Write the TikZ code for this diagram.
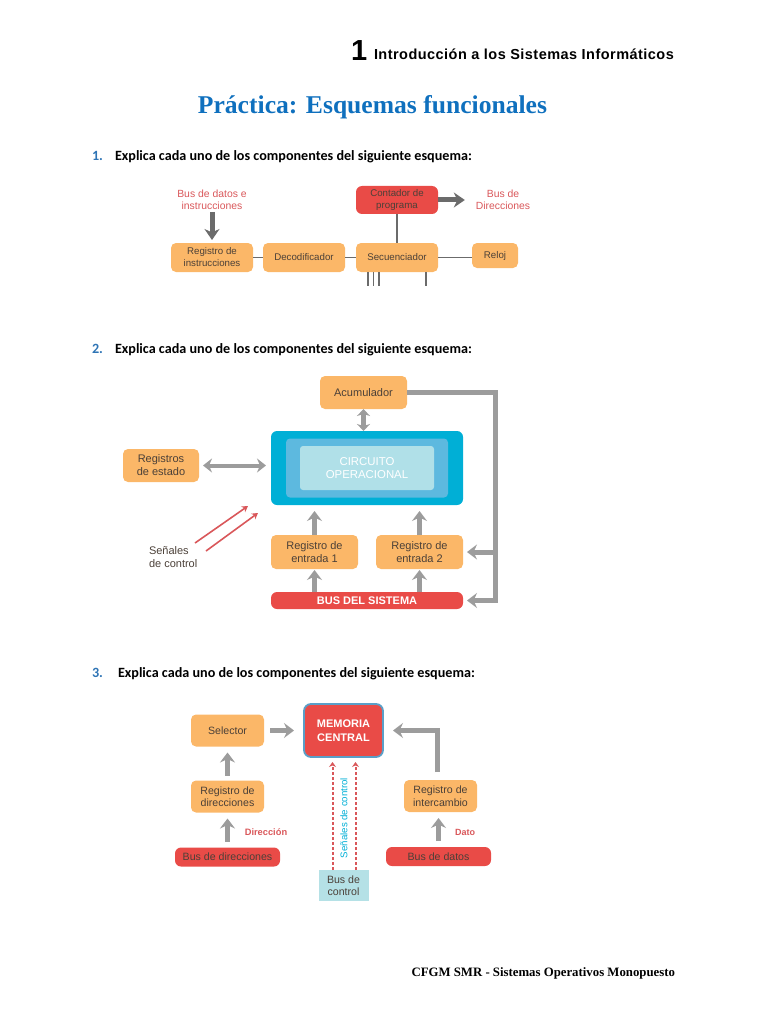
\documentclass[tikz,border=0pt]{standalone}
\usepackage{fontspec}
\usepackage{tikz}
\usetikzlibrary{positioning,arrows.meta}
\setmainfont{Liberation Sans}
\newfontfamily\serifbold[BoldFont={Liberation Serif Bold}]{Liberation Serif}
\newfontfamily\calibrifont{Carlito}
\newfontfamily\spacedfont[LetterSpace=3.2]{Liberation Sans}
\definecolor{boxorange}{HTML}{FBB768}
\definecolor{boxred}{HTML}{E94B47}
\definecolor{cyanouter}{HTML}{00AFD6}
\definecolor{cyanmid}{HTML}{5DB9DF}
\definecolor{cyaninner}{HTML}{B0E0E8}
\definecolor{ctrlcyan}{HTML}{B5E1E6}
\definecolor{labelred}{HTML}{D9575A}
\definecolor{arrowgrey}{HTML}{9C9C9C}
\definecolor{arrowdark}{HTML}{6B6B6B}
\definecolor{boxtext}{HTML}{4B4038}
\definecolor{titleblue}{HTML}{0F70BE}
\definecolor{numblue}{HTML}{2E74B5}
\definecolor{memborder}{HTML}{5A9FC8}

\begin{document}
\begin{tikzpicture}[
      x=1pt,y=-1pt,
      node distance=10pt,
      every node/.style={inner sep=0pt,outer sep=0pt,align=center,text=boxtext,font=\fontsize{9.7}{12}\selectfont},
      bigtext/.style={font=\fontsize{11}{13}\selectfont},
      midtext/.style={font=\fontsize{10.6}{12.5}\selectfont},
      box/.style={fill=boxorange,rounded corners=5pt,minimum width=#1,minimum height=33pt},
      box/.default=82pt,
      redbox/.style={fill=boxred,rounded corners=6pt,minimum width=#1,minimum height=19pt},
      redlabel/.style={text=labelred,font=\fontsize{10.4}{12}\selectfont},
      qtext/.style={anchor=base west,text=black,font=\fontsize{14.15}{16}\calibrifont\bfseries},
      qnum/.style={anchor=base west,text=numblue,font=\fontsize{14.15}{16}\calibrifont\bfseries},
      thinline/.style={draw=arrowdark,line width=1.6pt},
      fatdark/.style={draw=arrowdark,line width=5pt,-{Stealth[length=11pt,width=15pt,inset=3.5pt]}},
      fat/.style={draw=arrowgrey,line width=5pt,-{Stealth[length=10pt,width=15pt,inset=3.5pt]}},
      fatboth/.style={draw=arrowgrey,line width=4pt,{Stealth[length=9pt,width=14pt,inset=3pt]}-{Stealth[length=9pt,width=14pt,inset=3pt]}},
      ctrl/.style={draw=labelred,line width=2pt,dash pattern=on 3pt off 2pt,-{Stealth[length=5pt,width=7pt]}},
      sig/.style={draw=labelred,line width=1.6pt,-{Stealth[length=6pt,width=7pt,inset=2pt]}}
    ]
    \useasboundingbox (0,0) rectangle (768,1024);

    % header
    \node[anchor=base west,text=black,font=\fontsize{29}{30}\selectfont\bfseries] (chapnum) at (351,61) {1};
    \node[anchor=base west,text=black,font=\fontsize{14.5}{16}\spacedfont\bfseries] (chaptitle) at (374,60) {Introducción a los Sistemas Informáticos};
    \node[text=titleblue,font=\fontsize{25.6}{28}\serifbold\bfseries] (title) at (372.5,107) {Práctica: Esquemas funcionales};

    % first scheme
    \node[qnum] (num1) at (92,161) {1.};
    \node[qtext] (q1) at (115,161) {Explica cada uno de los componentes del siguiente esquema:};
    \node[box,minimum height=29pt] (regins) at (212,257.5) {Registro de\\instrucciones};
    \node[box,minimum height=29pt,right=of regins] (decod) {Decodificador};
    \node[box,minimum height=29pt,right=11pt of decod] (secuen) {Secuenciador};
    \node[box=46pt,minimum height=25pt,right=34pt of secuen,yshift=2pt] (reloj) {Reloj};
    \node[fill=boxred,rounded corners=6pt,minimum width=82pt,minimum height=28pt,above=29pt of secuen] (contador) {Contador de\\programa};
    \node[redlabel] (busdatos) at (212,200) {Bus de datos e\\instrucciones};
    \node[redlabel] (busdir) at (503,200) {Bus de\\Direcciones};
    \coordinate (stuba) at (368,286);
    \coordinate (stubb) at (373.5,286);
    \coordinate (stubc) at (379,286);
    \coordinate (stubd) at (426,286);

    \draw[thinline] (regins) -- (decod);
    \draw[thinline] (decod) -- (secuen);
    \draw[thinline] (secuen) -- (reloj.west |- secuen);
    \draw[thinline] (contador) -- (secuen);
    \draw[thinline] (stuba |- secuen.south) -- (stuba);
    \draw[thinline] (stubb |- secuen.south) -- (stubb);
    \draw[thinline] (stubc |- secuen.south) -- (stubc);
    \draw[thinline] (stubd |- secuen.south) -- (stubd);
    \draw[fatdark,shorten <=2pt,shorten >=3pt] (busdatos) -- (regins);
    \draw[fatdark,shorten >=11pt] (contador.east |- busdir) -- (busdir.west);

    % second scheme
    \node[qnum] (num2) at (92,353) {2.};
    \node[qtext] (q2) at (115,353) {Explica cada uno de los componentes del siguiente esquema:};
    \node[fill=cyanouter,rounded corners=6pt,minimum width=192pt,minimum height=74pt] (opouter) at (367,468) {};
    \node[fill=cyanmid,rounded corners=4pt,minimum width=162pt,minimum height=59pt] (opmid) at (opouter.center) {};
    \node[fill=cyaninner,rounded corners=3pt,minimum width=134pt,minimum height=44pt,text=white,font=\fontsize{11.4}{13}\selectfont] (opinner) at (opouter.center) {CIRCUITO\\OPERACIONAL};
    \node[box=87pt,bigtext,above=22pt of opouter,xshift=-3.5pt] (acum) {Acumulador};
    \node[box=76pt,bigtext,left=72pt of opouter,yshift=2.5pt] (regest) {Registros\\de estado};
    \node[box=87pt,bigtext,minimum height=34pt,below right=30pt and 0pt of opouter.south west] (reg1) {Registro de\\entrada 1};
    \node[box=87pt,bigtext,minimum height=34pt,below left=30pt and 0pt of opouter.south east] (reg2) {Registro de\\entrada 2};
    \node[redbox=192pt,minimum height=17pt,below=87pt of opouter,text=white,font=\fontsize{11}{13}\selectfont\bfseries] (bus) {BUS DEL SISTEMA};
    \node[anchor=west,align=left,bigtext] (senal) at (149,557) {Señales\\de control};
    \coordinate (rail) at (495,500);
    \coordinate (siga) at (195,543);
    \coordinate (sigb) at (248,506);
    \coordinate (sigc) at (206,551);
    \coordinate (sigd) at (258,513);

    \draw[fatboth,{Stealth[length=7pt,width=13pt,inset=2pt]}-{Stealth[length=7pt,width=13pt,inset=2pt]},line width=4.5pt] (acum) -- (acum |- opouter.north);
    \draw[fatboth,shorten <=4pt,shorten >=5pt] (regest) -- (regest -| opouter.west);
    \draw[fat,shorten >=6pt] (reg1) -- (reg1 |- opouter.south);
    \draw[fat,shorten >=6pt] (reg2) -- (reg2 |- opouter.south);
    \draw[fat] (reg1 |- bus.north) -- ([yshift=-1pt]reg1.south);
    \draw[fat] (reg2 |- bus.north) -- ([yshift=-1pt]reg2.south);
    \draw[fat,line join=miter,shorten >=4pt] (acum.east) -- (acum.east -| rail) -- (rail |- bus) -- (bus.east);
    \draw[fat,shorten >=4pt] (rail |- reg2) -- (reg2.east);
    \draw[sig] (siga) -- (sigb);
    \draw[sig] (sigc) -- (sigd);

    % third scheme
    \node[qnum] (num3) at (92,677) {3.};
    \node[qtext] (q3) at (118,677) {Explica cada uno de los componentes del siguiente esquema:};
    \node[draw=memborder,line width=1.8pt,fill=boxred,rounded corners=7pt,minimum width=79pt,minimum height=53pt,text=white,font=\fontsize{11}{14}\selectfont\bfseries] (memoria) at (343.5,730.5) {MEMORIA\\CENTRAL};
    \node[box=73pt,midtext,minimum height=32pt,left=40pt of memoria] (selector) {Selector};
    \node[box=73pt,midtext,minimum height=32pt,below=34pt of selector] (regdir) {Registro de\\direcciones};
    \node[redbox=105pt,midtext,below=35pt of regdir] (busdirec) {Bus de direcciones};
    \node[box=73pt,midtext,minimum height=32pt] (regint) at (440.5,796) {Registro de\\intercambio};
    \node[redbox=105pt,midtext,below=35pt of regint,xshift=-2pt] (busdat) {Bus de datos};
    \node[fill=ctrlcyan,midtext,minimum width=50pt,minimum height=31pt,below=113pt of memoria] (busctrl) {Bus de\\control};
    \node[text=labelred,font=\fontsize{9.3}{11}\selectfont\bfseries] (ldir) at (266,832) {Dirección};
    \node[text=labelred,font=\fontsize{9}{11}\selectfont\bfseries] (ldato) at (465,832) {Dato};
    \node[rotate=90,text=cyanouter,font=\fontsize{9.7}{11}\selectfont] (lsen) at (344,818) {Señales de control};

    \draw[fat,shorten <=6pt,shorten >=10pt] (selector) -- (memoria);
    \draw[fat,shorten <=5pt,shorten >=6pt] (regdir) -- (selector);
    \draw[fat,shorten <=6pt,shorten >=6pt] (busdirec) -- (regdir);
    \draw[fat,shorten <=6pt,shorten >=6pt] (busdat.north) -- (busdat.north |- regint.south);
    \draw[fat,line join=miter,shorten <=8pt,shorten >=10pt] ([xshift=-3.5pt]regint.north) |- (memoria.east);
    \draw[ctrl,shorten >=5pt] ([xshift=-11pt]busctrl.north) -- ([xshift=-11pt]busctrl.north |- memoria.south);
    \draw[ctrl,shorten >=5pt] ([xshift=12pt]busctrl.north) -- ([xshift=12pt]busctrl.north |- memoria.south);

    % footer
    \node[anchor=east,text=black,font=\fontsize{12.8}{14}\serifbold\bfseries] (footer) at (675,973) {CFGM SMR - Sistemas Operativos Monopuesto};
  \end{tikzpicture}
\end{document}
